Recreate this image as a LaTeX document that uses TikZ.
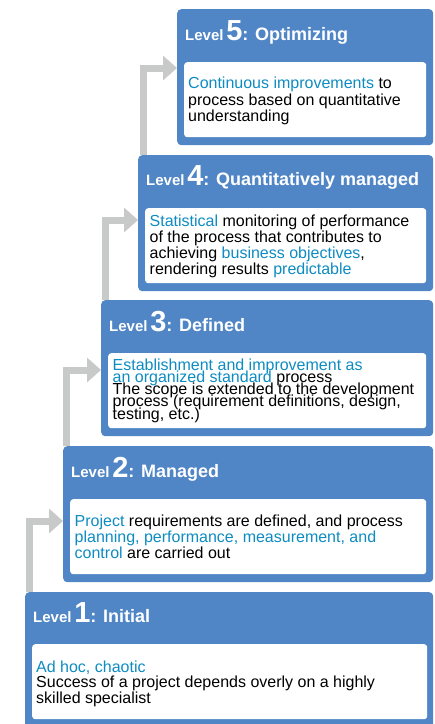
\documentclass[tikz,border=0pt]{standalone}
\usepackage{fontspec}
\setmainfont{Liberation Sans}
\usetikzlibrary{arrows.meta}
\definecolor{boxblue}{RGB}{80,134,198}
\definecolor{hl}{RGB}{14,140,194}
\definecolor{arrowgray}{RGB}{200,201,201}
\pgfdeclarelayer{bg}
\pgfsetlayers{bg,main}
\newcommand{\hlt}[1]{\textcolor{hl}{#1}}
\newcommand{\lvltitle}[2]{{\fontsize{15}{15}\selectfont Level} {\fontsize{29}{29}\selectfont #1}{\fontsize{18}{18}\selectfont : #2}}
\newcommand{\bodyfont}[1]{\fontsize{16}{#1}\selectfont\lineskiplimit=-\maxdimen\lineskip=0pt\relax}
\begin{document}
\begin{tikzpicture}[x=1pt,y=-1pt,
  outerbox/.style={fill=boxblue, rounded corners=4pt, inner sep=0pt, anchor=north west, minimum height=136pt},
  innerbox/.style={fill=white, rounded corners=3pt, inner sep=0pt, anchor=north west, minimum height=75pt},
  titletext/.style={anchor=base west, inner sep=0pt, text=white, font=\bfseries},
  bodytext/.style={anchor=base west, inner sep=0pt, align=left, text=black},
  flow/.style={draw=arrowgray, line width=7pt, line join=miter, -{Triangle[width=24pt,length=14pt]}}
]
\useasboundingbox (0,0) rectangle (435,724);

% Level 5
\node[outerbox, minimum width=256pt] (L5) at (177,9) {};
\node[innerbox, minimum width=242pt] (I5) at (184,62) {};
\node[titletext] (T5) at (185,40) {\lvltitle{5}{Optimizing}};
\node[bodytext, font=\bodyfont{16.5}] (B5) at (188,121.5) {\hlt{Continuous improvements} to\\process based on quantitative\\understanding};

% Level 4
\node[outerbox, minimum width=295pt] (L4) at (138,155) {};
\node[innerbox, minimum width=281pt] (I4) at (145,208) {};
\node[titletext] (T4) at (146,185) {\lvltitle{4}{Quantitatively managed}};
\node[bodytext, font=\bodyfont{16}] (B4) at (149.5,274) {\hlt{Statistical} monitoring of performance\\of the process that contributes to\\achieving \hlt{business objectives},\\rendering results \hlt{predictable}};

% Level 3
\node[outerbox, minimum width=332pt] (L3) at (101,300) {};
\node[innerbox, minimum width=318pt] (I3) at (108,353) {};
\node[titletext] (T3) at (109,331) {\lvltitle{3}{Defined}};
\node[bodytext, font=\bodyfont{12.3}] (B3) at (112.5,419.2) {\hlt{Establishment and improvement as}\\\hlt{an organized standard} process\\The scope is extended to the development\\process (requirement definitions, design,\\testing, etc.)};

% Level 2
\node[outerbox, minimum width=370pt] (L2) at (63,446) {};
\node[innerbox, minimum width=356pt] (I2) at (70,499) {};
\node[titletext] (T2) at (71,477) {\lvltitle{2}{Managed}};
\node[bodytext, font=\bodyfont{16}] (B2) at (74.5,558) {\hlt{Project} requirements are defined, and process\\\hlt{planning, performance, measurement, and}\\\hlt{control} are carried out};

% Level 1
\node[outerbox, minimum width=408pt] (L1) at (25,592) {};
\node[innerbox, minimum width=395pt] (I1) at (32,644) {};
\node[titletext] (T1) at (33,622) {\lvltitle{1}{Initial}};
\node[bodytext, font=\bodyfont{15.7}] (B1) at (36,703.4) {\hlt{Ad hoc, chaotic}\\Success of a project depends overly on a highly\\skilled specialist};

% Arrows
\begin{pgfonlayer}{bg}
\draw[flow] ([xshift=5.5pt]L4.north west) |- ([yshift=-59pt]L5.north west);
\draw[flow] ([xshift=4pt]L3.north west) |- ([yshift=-65pt]L4.north west);
\draw[flow] ([xshift=3.5pt]L2.north west) |- ([yshift=-70pt]L3.north west);
\draw[flow] ([xshift=4.5pt]L1.north west) |- ([yshift=-75pt]L2.north west);
\end{pgfonlayer}
\end{tikzpicture}
\end{document}
